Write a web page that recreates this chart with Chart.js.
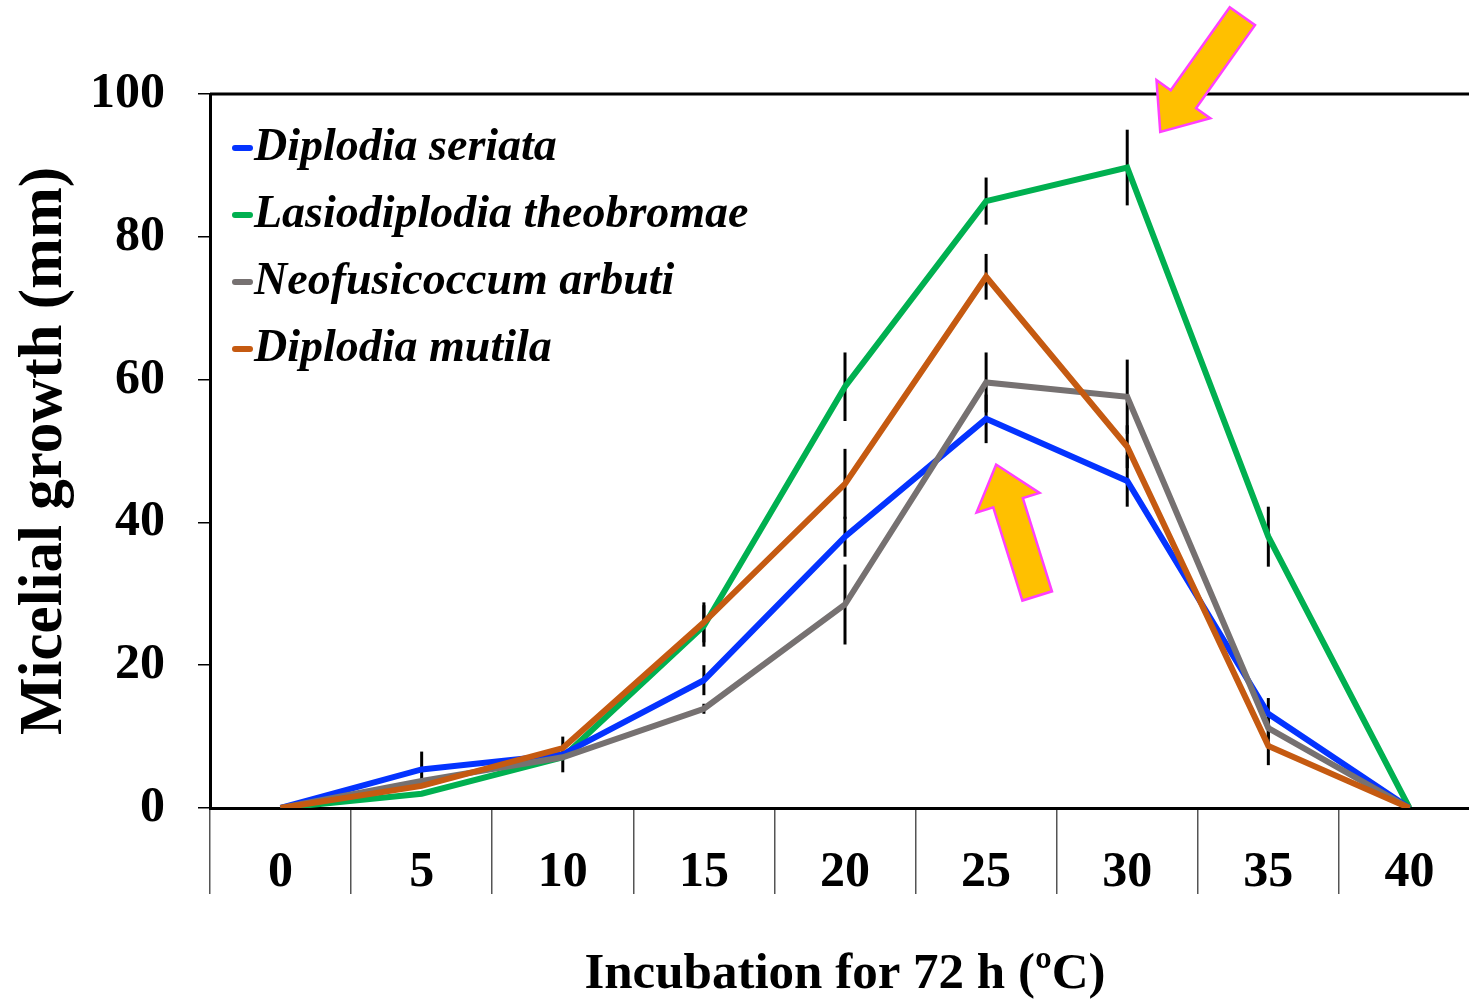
<!DOCTYPE html>
<html>
<head>
<meta charset="utf-8">
<script src="https://cdn.jsdelivr.net/npm/chart.js@4.4.1/dist/chart.umd.min.js"></script>
<style>
  html, body { margin: 0; padding: 0; background: #fff; overflow: hidden; }
  canvas { display: block; }
</style>
</head>
<body>
<canvas id="growthChart" width="1482" height="1002"></canvas>
<script>
// temperatures (ºC)
const temps = ['0', '5', '10', '15', '20', '25', '30', '35', '40'];

const seriataVals = [0, 5.4, 7.5, 17.9, 38, 54.5, 45.8, 13.2, 0];
const lasioVals   = [0, 2.0, 7.1, 25.5, 59, 85, 89.7, 38, 0];
const neofusVals  = [0, 3.8, 7.1, 13.9, 28.5, 59.6, 57.6, 11.2, 0];
const mutilaVals  = [0, 3.1, 8.4, 26.0, 45.4, 74.4, 50.6, 8.7, 0];

// standard deviations (error bars)
const seriataErr = [0, 2.5, 2.5, 2.1, 2.8, 3.4, 3.6, 2.2, 0];
const lasioErr   = [0, 0, 0, 2.9, 4.8, 3.3, 5.3, 4.2, 0];
const neofusErr  = [0, 0, 0, 0.7, 5.6, 4.2, 5.2, 1.5, 0];
const mutilaErr  = [0, 0, 0, 2.8, 4.9, 3.2, 3.0, 2.7, 0];

const yTicks = [0, 20, 40, 60, 80, 100];

// arrows: [tip index, tip value, tail index, tail value]
const arrowTop = [6.234, 94.7, 6.816, 110.9];
const arrowLow = [5.071, 48.1, 5.362, 29.7];

const seriesNames = ['Diplodia seriata', 'Lasiodiplodia theobromae', 'Neofusicoccum arbuti', 'Diplodia mutila'];
const seriesColors = ['#0433FF', '#00B050', '#767171', '#C55A11'];
const seriesVals = [seriataVals, lasioVals, neofusVals, mutilaVals];
const seriesErr = [seriataErr, lasioErr, neofusErr, mutilaErr];
const seriesOrder = [2, 3, 1, 0];

const errorBars = {
  id: 'errorBars',
  beforeDatasetsDraw(chart) {
    const ctx = chart.ctx;
    const x = chart.scales.x, y = chart.scales.y;
    ctx.save();
    ctx.strokeStyle = '#000';
    ctx.lineWidth = 3;
    chart.data.datasets.forEach(ds => {
      ds.data.forEach((v, i) => {
        const e = ds.errors[i];
        if (!e) return;
        const px = x.getPixelForValue(i);
        ctx.beginPath();
        ctx.moveTo(px, y.getPixelForValue(v - e));
        ctx.lineTo(px, y.getPixelForValue(v + e));
        ctx.stroke();
      });
    });
    ctx.restore();
  }
};

function drawArrow(ctx, x, y, a) {
  const tx = x.getPixelForValue(a[0]), ty = y.getPixelForValue(a[1]);
  const bx = x.getPixelForValue(a[2]), by = y.getPixelForValue(a[3]);
  const len = Math.hypot(tx - bx, ty - by);
  const ux = (tx - bx) / len, uy = (ty - by) / len;
  const nx = -uy, ny = ux;
  const shaft = 15.5, head = 33, headLen = 40;
  const hx = tx - ux * headLen, hy = ty - uy * headLen;
  ctx.beginPath();
  ctx.moveTo(bx + nx * shaft, by + ny * shaft);
  ctx.lineTo(hx + nx * shaft, hy + ny * shaft);
  ctx.lineTo(hx + nx * head, hy + ny * head);
  ctx.lineTo(tx, ty);
  ctx.lineTo(hx - nx * head, hy - ny * head);
  ctx.lineTo(hx - nx * shaft, hy - ny * shaft);
  ctx.lineTo(bx - nx * shaft, by - ny * shaft);
  ctx.closePath();
  ctx.fillStyle = '#FFC000';
  ctx.fill();
  ctx.strokeStyle = '#FF40FF';
  ctx.lineWidth = 2.5;
  ctx.stroke();
}

const extras = {
  id: 'extras',
  afterDraw(chart) {
    const ctx = chart.ctx;
    const area = chart.chartArea;
    const x = chart.scales.x, y = chart.scales.y;
    ctx.save();
    // frame top
    ctx.strokeStyle = '#000';
    ctx.lineWidth = 3;
    ctx.beginPath();
    ctx.moveTo(area.left, area.top);
    ctx.lineTo(area.right, area.top);
    ctx.moveTo(area.right, area.top);
    ctx.lineTo(area.right, area.bottom);
    ctx.stroke();

    // legend
    ctx.font = 'italic bold 46px "Liberation Serif"';
    ctx.textBaseline = 'middle';
    ctx.fillStyle = '#000';
    ctx.lineCap = 'round';
    seriesNames.forEach((name, i) => {
      const ly = area.top + 54 + i * 67;
      ctx.strokeStyle = seriesColors[i];
      ctx.lineWidth = 6;
      ctx.beginPath();
      ctx.moveTo(area.left + 25, ly);
      ctx.lineTo(area.left + 40, ly);
      ctx.stroke();
      ctx.fillText(name, area.left + 44, ly);
    });
    ctx.lineCap = 'butt';

    drawArrow(ctx, x, y, arrowTop);
    drawArrow(ctx, x, y, arrowLow);
    ctx.restore();
  }
};

const datasets = seriesNames.map((name, i) => ({
  label: name,
  data: seriesVals[i],
  errors: seriesErr[i],
  borderColor: seriesColors[i],
  borderWidth: 6,
  pointRadius: 0,
  tension: 0,
  fill: false,
  order: seriesOrder[i]
}));

new Chart(document.getElementById('growthChart'), {
  type: 'line',
  data: { labels: temps, datasets: datasets },
  options: {
    responsive: false,
    animation: false,
    layout: { padding: { top: 94, right: 2, left: 0, bottom: 0 } },
    plugins: { legend: { display: false }, tooltip: { enabled: false } },
    scales: {
      x: {
        offset: true,
        afterFit(s) { s.height = 194; },
        grid: { offset: true, drawOnChartArea: false, tickLength: 86, color: '#555', lineWidth: 1.5 },
        border: { color: '#000', width: 3 },
        ticks: { color: '#000', padding: -51, font: { family: 'Liberation Serif', size: 50, weight: 'bold' } },
        title: {
          display: true,
          text: 'Incubation for 72 h (ºC)',
          color: '#000',
          padding: { top: 0, bottom: -3 },
          font: { family: 'Liberation Serif', size: 51, weight: 'bold' }
        }
      },
      y: {
        min: 0,
        max: 100,
        afterFit(s) { s.width = 210; },
        afterBuildTicks(s) { s.ticks = yTicks.map(v => ({ value: v })); },
        grid: { drawOnChartArea: false, tickLength: 12, color: '#000', lineWidth: 1.5 },
        border: { color: '#000', width: 3 },
        ticks: { color: '#000', padding: 33, font: { family: 'Liberation Serif', size: 50, weight: 'bold' } },
        title: {
          display: true,
          text: 'Micelial growth (mm)',
          color: '#000',
          padding: { top: 9, bottom: 0 },
          font: { family: 'Liberation Serif', size: 61, weight: 'bold' }
        }
      }
    }
  },
  plugins: [errorBars, extras]
});
</script>
</body>
</html>
